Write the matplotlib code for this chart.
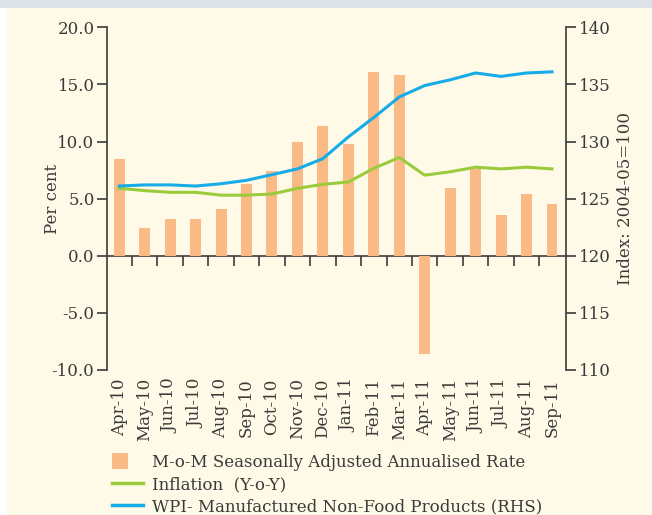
import numpy as np
import matplotlib
matplotlib.use("Agg")
import matplotlib.pyplot as plt
from matplotlib.patches import Rectangle, Patch
from matplotlib.lines import Line2D
from matplotlib.legend_handler import HandlerPatch

plt.rcParams['font.family'] = ['DejaVu Serif']

months = ["Apr-10", "May-10", "Jun-10", "Jul-10", "Aug-10", "Sep-10", "Oct-10",
          "Nov-10", "Dec-10", "Jan-11", "Feb-11", "Mar-11", "Apr-11", "May-11",
          "Jun-11", "Jul-11", "Aug-11", "Sep-11"]
mom_saar = [8.5, 2.4, 3.2, 3.2, 4.1, 6.3, 7.4, 10.0, 11.4, 9.8, 16.1, 15.8,
            -8.6, 5.9, 7.6, 3.6, 5.4, 4.5]
inflation_yoy = [5.9, 5.7, 5.55, 5.55, 5.3, 5.3, 5.4, 5.9, 6.25, 6.45, 7.65, 8.6,
                 7.05, 7.35, 7.75, 7.6, 7.75, 7.6]
wpi_index = [126.1, 126.2, 126.2, 126.1, 126.3, 126.6, 127.1, 127.6, 128.5, 130.4,
             132.1, 133.9, 134.9, 135.4, 136.0, 135.7, 136.0, 136.1]

bg = '#FEFAE7'
bar_c = '#F9BA86'
green = '#9BCB3B'
blue = '#15ACE8'
dark = '#3a3a3a'
fs = 12

fig = plt.figure(figsize=(6.52, 5.15), dpi=100, facecolor=bg)
# top grey strip and left white margin
fig.patches.append(Rectangle((0, 1 - 8/515), 1, 8/515, transform=fig.transFigure,
                             facecolor='#DDE2E8', edgecolor='none', zorder=0))
fig.patches.append(Rectangle((0, 0), 7/652, 1 - 8/515, transform=fig.transFigure,
                             facecolor='#FFFFFF', edgecolor='none', zorder=0))

ax = fig.add_axes([107/652, 1 - 369.9/515, (566 - 107)/652, 342.6/515])
ax.set_facecolor('none')
x = np.arange(len(months))

ax.bar(x, mom_saar, width=0.43, color=bar_c, zorder=2)
ax.plot(x, inflation_yoy, color=green, lw=2.2, zorder=3)

ax.set_xlim(-0.48, 17.55)
ax.set_ylim(-10, 20)
yt = [-10, -5, 0, 5, 10, 15, 20]
ax.set_yticks(yt)
ax.set_yticklabels([f"{v:.1f}" for v in yt])
ax.set_ylabel("Per cent", fontsize=fs, color=dark, labelpad=-7)

for s in ['top', 'right', 'bottom']:
    ax.spines[s].set_visible(False)
ax.spines['left'].set_color(dark)
ax.spines['left'].set_linewidth(1.2)
ax.tick_params(axis='y', direction='out', length=7, width=1.2, color=dark,
               labelsize=fs, labelcolor=dark, pad=2)

# category labels at bottom
ax.set_xticks(x)
ax.set_xticklabels(months, rotation=90, fontsize=fs, color=dark)
ax.tick_params(axis='x', length=0, pad=6)

# zero line with boundary ticks
sec = ax.secondary_xaxis(1/3)
sec.set_xticks(np.arange(0.5, len(months) - 1, 1))
sec.set_xticklabels([])
sec.spines['bottom'].set_color(dark)
sec.spines['bottom'].set_linewidth(1.2)
sec.tick_params(axis='x', direction='out', length=7, width=1.2, color=dark)

ax2 = ax.twinx()
ax2.plot(x, wpi_index, color=blue, lw=2.2, zorder=3)
ax2.set_ylim(110, 140)
ax2.set_yticks([110, 115, 120, 125, 130, 135, 140])
for s in ['top', 'left', 'bottom']:
    ax2.spines[s].set_visible(False)
ax2.spines['right'].set_color(dark)
ax2.spines['right'].set_linewidth(1.2)
ax2.tick_params(axis='y', direction='out', length=7, width=1.2, color=dark,
                labelsize=fs, labelcolor=dark, pad=2)
ax2.set_ylabel("Index: 2004-05=100", fontsize=fs, color=dark, labelpad=5)


def square_patch(legend, orig_handle, xdescent, ydescent, width, height, fontsize):
    s = 11.5
    return Rectangle((-xdescent, -ydescent + (height - s) / 2), s, s)


handles = [Patch(facecolor=bar_c, edgecolor='none'),
           Line2D([], [], color=green, lw=2.5),
           Line2D([], [], color=blue, lw=2.5)]
labels = ["M-o-M Seasonally Adjusted Annualised Rate", "Inflation  (Y-o-Y)",
          "WPI- Manufactured Non-Food Products (RHS)"]
fig.legend(handles, labels, loc='upper left', bbox_to_anchor=(112/652, 1 - 454/515),
           frameon=False, fontsize=fs, labelcolor=dark, handlelength=1.85,
           handletextpad=0.55, labelspacing=0.3, borderaxespad=0, borderpad=0,
           handler_map={Patch: HandlerPatch(patch_func=square_patch)})

fig.savefig("out.png", dpi=100, facecolor=bg)
